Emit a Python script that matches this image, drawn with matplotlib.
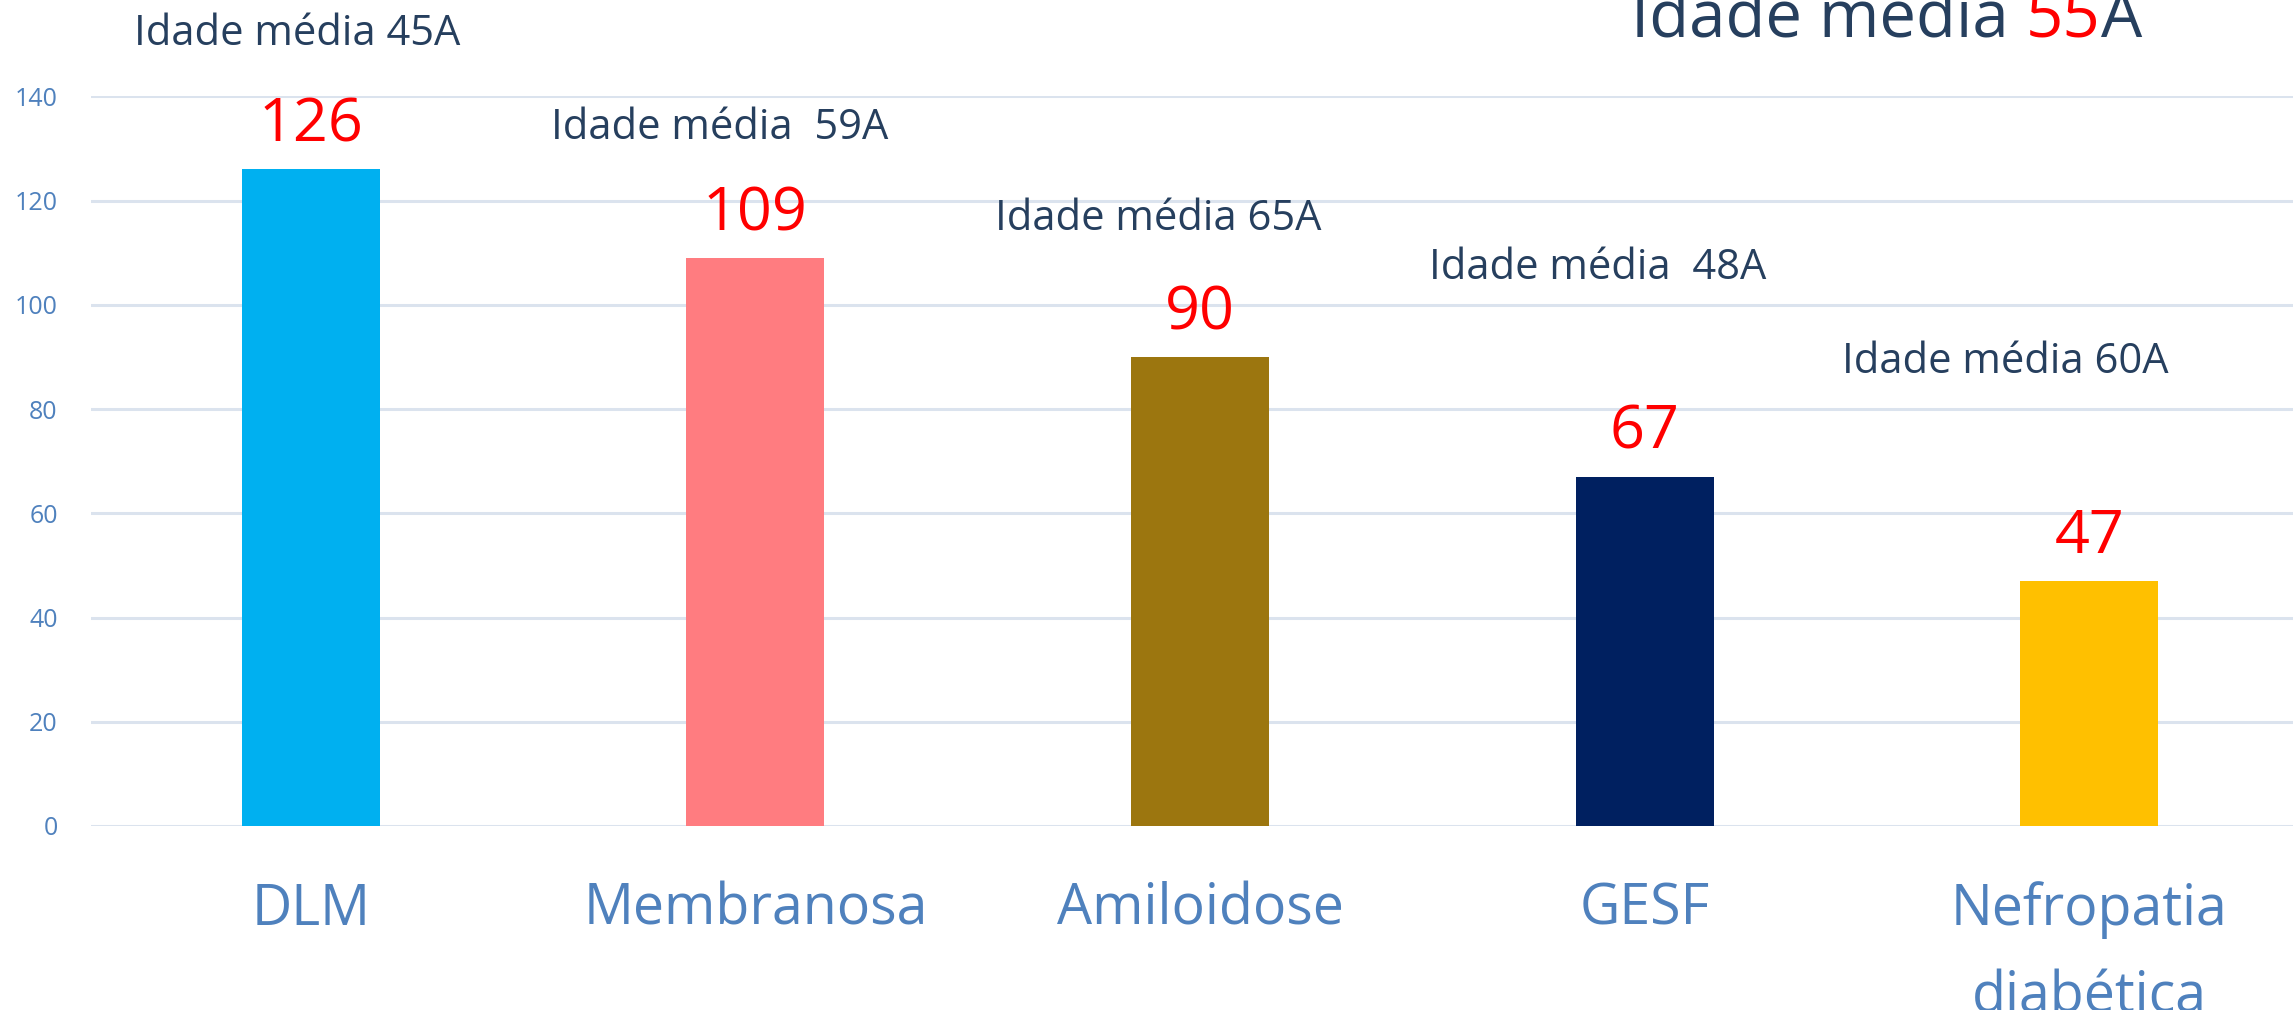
import matplotlib.pyplot as plt

# Biopsias renais - diagnosticos e idade media
categorias = ["DLM", "Membranosa", "Amiloidose", "GESF", "Nefropatia\ndiabética"]
casos = [126, 109, 90, 67, 47]
idades = ["45", " 59", "65", " 48", "60"]
cores = ["#00b0f0", "#ff7c80", "#9c760f", "#002060", "#ffc000"]
idade_geral = "55"

# deslocamento das caixas "Idade media" em relacao ao topo de cada barra
desloc_idade = [(-0.03, 26), (-0.08, 25), (-0.095, 26.5), (-0.105, 40), (-0.19, 42)]

plt.rcParams["font.family"] = ["Open Sans", "DejaVu Sans"]
texto_escuro = "#263f5e"
azul_eixo = "#4f81bd"

fig = plt.figure(figsize=(22.93, 10.10), dpi=100)
ax = fig.add_axes([0.0397, 0.1822, 0.9603, 0.7223])

x = list(range(len(categorias)))
ax.bar(x, casos, width=0.31, color=cores, zorder=3)

ax.set_ylim(0, 140)
ax.set_xlim(-0.494, 4.458)
ax.set_yticks(range(0, 141, 20))
ax.yaxis.grid(True, color="#dbe3ee", linewidth=2.2, zorder=0)
ax.set_axisbelow(True)
for s in ax.spines.values():
    s.set_visible(False)
ax.tick_params(axis="y", length=0, pad=24, labelsize=18, labelcolor=azul_eixo)
ax.tick_params(axis="x", length=0, pad=40, labelsize=40, labelcolor=azul_eixo)
ax.set_xticks(x)
ax.set_xticklabels(categorias, linespacing=1.7)

for i, v in enumerate(casos):
    ax.annotate(str(v), (i, v), xytext=(0, 10), textcoords="offset points",
                ha="center", va="bottom", fontsize=44, color="red")

for i, v in enumerate(casos):
    dx, dy = desloc_idade[i]
    ax.text(i + dx, v + dy, f"Idade média {idades[i]}A", ha="center", va="center",
            fontsize=30, color=texto_escuro, clip_on=False)

# titulo com o numero em vermelho
t1 = fig.text(0.7113, 0.9634, "Idade média ", fontsize=47, color=texto_escuro,
              ha="left", va="baseline")
t2 = ax.annotate(idade_geral, xy=(1, 0), xycoords=t1, va="bottom",
                 fontsize=47, color="red")
t3 = ax.annotate("A", xy=(1, 0), xycoords=t2, va="bottom",
                 fontsize=47, color=texto_escuro)

fig.savefig("out.png", dpi=100)
